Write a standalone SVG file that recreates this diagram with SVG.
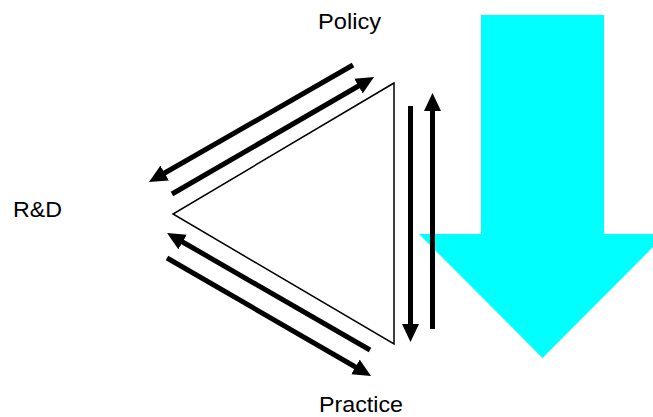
<svg xmlns="http://www.w3.org/2000/svg" width="653" height="417" viewBox="0 0 653 417">
<style>
.lbl{font-family:"Liberation Sans",Arial,sans-serif;font-size:22px;fill:#000}
.conn{stroke:#000;stroke-width:5;fill:none;marker-end:url(#ah)}
</style>
<defs>
<marker id="ah" markerUnits="userSpaceOnUse" markerWidth="18" markerHeight="17" refX="2" refY="8.5" orient="auto">
<path d="M0,0 L18,8.5 L0,17 z" fill="#000"/>
</marker>
</defs>
<rect width="653" height="417" fill="#fff"/>
<g id="bigArrow">
<polygon points="481,15 604,15 604,234 666,234 542.5,358 419,234 481,234" fill="#00ffff"/>
</g>
<g id="triangle">
<polygon points="394,83 173,214 394,344" fill="none" stroke="#000" stroke-width="1.5"/>
</g>
<g id="policy"><text class="lbl" x="318" y="29" textLength="63" lengthAdjust="spacingAndGlyphs">Policy</text></g>
<g id="rnd"><text class="lbl" x="13" y="217" textLength="49" lengthAdjust="spacingAndGlyphs">R&amp;D</text></g>
<g id="practice"><text class="lbl" x="319" y="412" textLength="84" lengthAdjust="spacingAndGlyphs">Practice</text></g>
<g id="connectors">
<line class="conn" x1="353" y1="65" x2="162.9" y2="174"/>
<line class="conn" x1="172" y1="194" x2="360.2" y2="85"/>
<line class="conn" x1="370" y1="350" x2="180.9" y2="241"/>
<line class="conn" x1="167" y1="258" x2="357.2" y2="368"/>
<line class="conn" x1="410.5" y1="106" x2="410.5" y2="326"/>
<line class="conn" x1="432.5" y1="329" x2="432.5" y2="109"/>
</g>
</svg>
